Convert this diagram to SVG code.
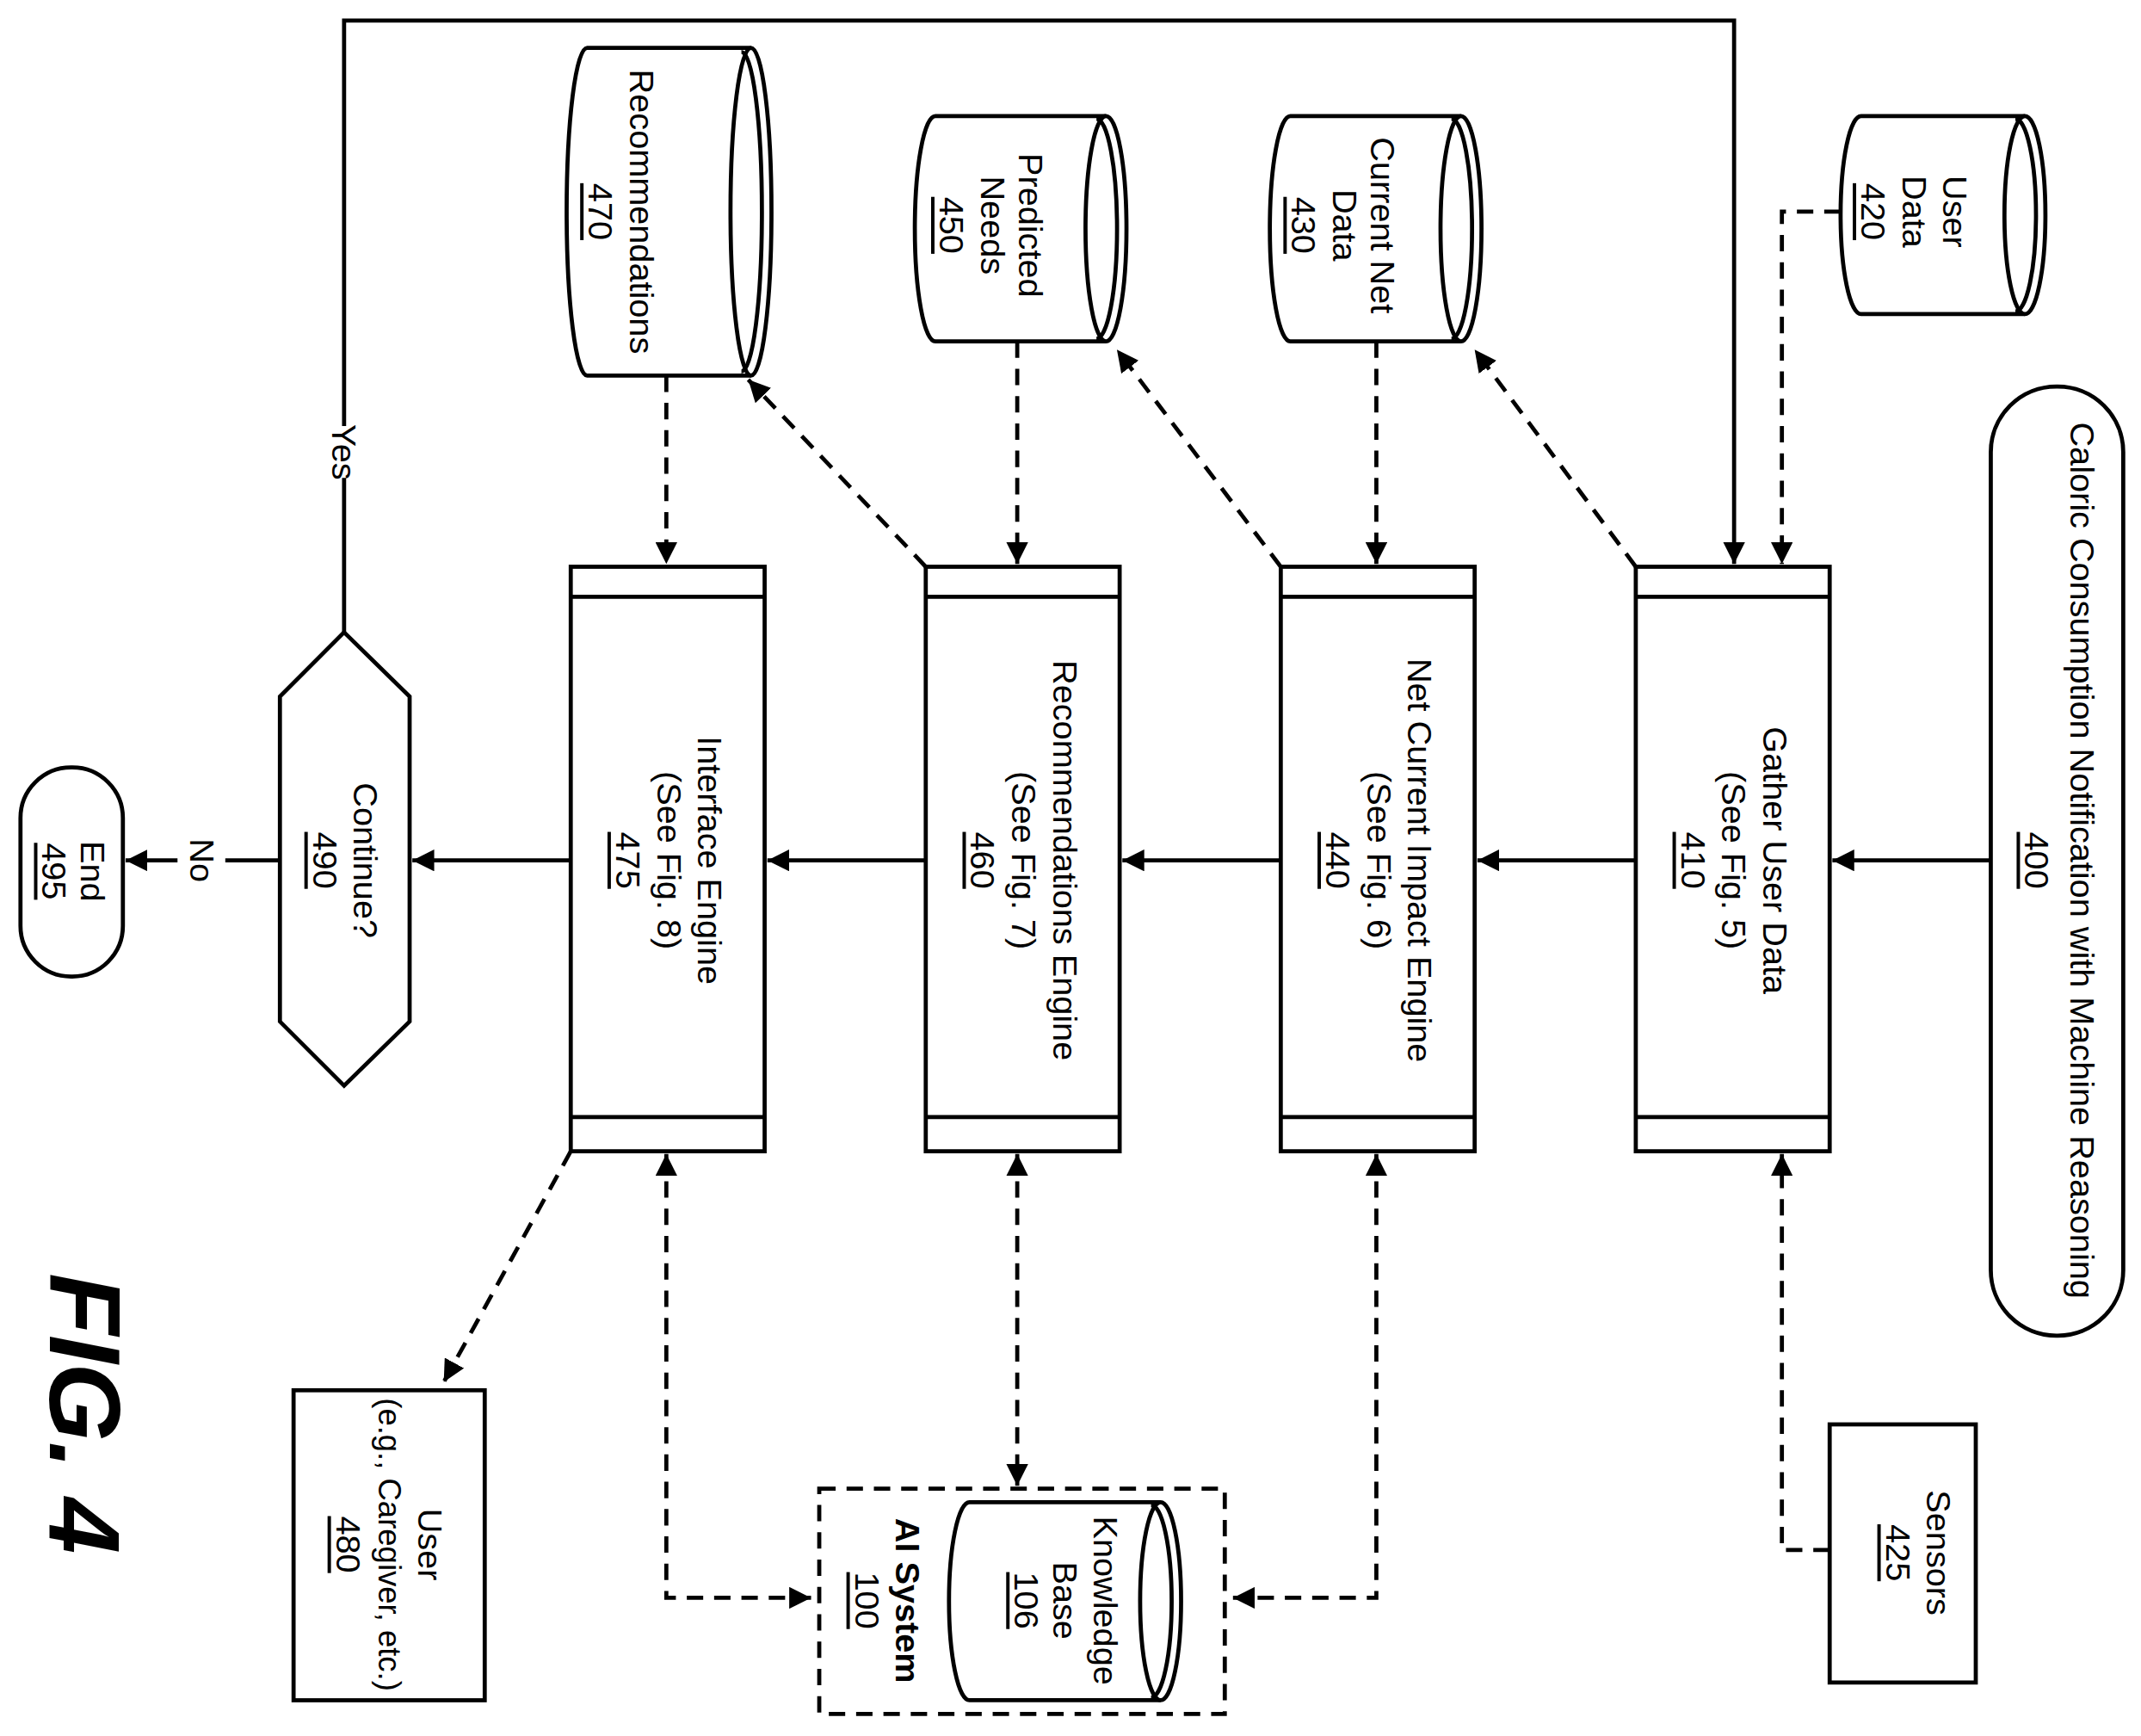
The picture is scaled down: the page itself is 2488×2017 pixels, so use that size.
<svg xmlns="http://www.w3.org/2000/svg" width="2488" height="2017" viewBox="0 0 2488 2017">
<defs>
<marker id="ah" markerUnits="userSpaceOnUse" markerWidth="18" markerHeight="16" refX="16" refY="8" orient="auto-start-reverse"><path d="M0,0 L16,8 L0,16 Z" fill="#000"/></marker>
</defs>
<style>
.s{fill:#fff;stroke:#000;stroke-width:3}
.n{fill:none;stroke:#000;stroke-width:3}
.l{fill:none;stroke:#000;stroke-width:3}
.d{fill:none;stroke:#000;stroke-width:3;stroke-dasharray:12 8}
text{font-family:"Liberation Sans",Arial,sans-serif;font-size:25px;text-anchor:middle;dominant-baseline:central;fill:#000}
.u{text-decoration:underline}
.fig{font-size:74px;font-weight:bold;font-style:italic}
</style>
<rect width="2488" height="2017" fill="#fff"/>
<g transform="scale(1.58673)">
<g id="connectors">
<path class="l" d="M1458,630 H1342" marker-end="url(#ah)"/>
<path class="l" d="M1198,630 H1082" marker-end="url(#ah)"/>
<path class="l" d="M938,630 H822" marker-end="url(#ah)"/>
<path class="l" d="M678,630 H562" marker-end="url(#ah)"/>
<path class="l" d="M418,630 H302" marker-end="url(#ah)"/>
<path class="l" d="M205,630 H165 M130,630 H92" marker-end="url(#ah)"/>
<path class="l" d="M252,463 V350 M252,312 V15 H1270 V413" marker-end="url(#ah)"/>
<path class="d" d="M1348,155 H1305 V413" marker-end="url(#ah)"/>
<path class="d" d="M1198,415 L1080,256" marker-end="url(#ah)"/>
<path class="d" d="M1008,250 V413" marker-end="url(#ah)"/>
<path class="d" d="M938,415 L818,256" marker-end="url(#ah)"/>
<path class="d" d="M745,250 V413" marker-end="url(#ah)"/>
<path class="d" d="M678,415 L548,278" marker-end="url(#ah)"/>
<path class="d" d="M488,275 V413" marker-end="url(#ah)"/>
<path class="d" d="M1340,1135 H1305 V845" marker-end="url(#ah)"/>
<path class="d" d="M418,843 L325,1012" marker-end="url(#ah)"/>
<path class="d" d="M1008,845 V1170 H903" marker-start="url(#ah)" marker-end="url(#ah)"/>
<path class="d" d="M745,845 V1088" marker-start="url(#ah)" marker-end="url(#ah)"/>
<path class="d" d="M488,845 V1170 H594" marker-start="url(#ah)" marker-end="url(#ah)"/>
</g>
<text transform="rotate(90 148 630)" x="148" y="630">No</text>
<text transform="rotate(90 252 331)" x="252" y="331">Yes</text>
<g id="n400">
<rect class="s" x="1458" y="283" width="97" height="695" rx="48"/>
<text transform="rotate(90 1525 630)" x="1525" y="630">Caloric Consumption Notification with Machine Reasoning</text>
<text class="u" transform="rotate(90 1492 630)" x="1492" y="630">400</text>
</g>
<g id="n410">
<rect class="s" x="1198" y="415" width="142" height="428"/><path class="n" d="M1198,437 H1340 M1198,818 H1340"/>
<text transform="rotate(90 1300 630)" x="1300" y="630">Gather User Data</text>
<text transform="rotate(90 1270 630)" x="1270" y="630">(See Fig. 5)</text>
<text class="u" transform="rotate(90 1240 630)" x="1240" y="630">410</text>
</g>
<g id="n440">
<rect class="s" x="938" y="415" width="142" height="428"/><path class="n" d="M938,437 H1080 M938,818 H1080"/>
<text transform="rotate(90 1040 630)" x="1040" y="630">Net Current Impact Engine</text>
<text transform="rotate(90 1010 630)" x="1010" y="630">(See Fig. 6)</text>
<text class="u" transform="rotate(90 980 630)" x="980" y="630">440</text>
</g>
<g id="n460">
<rect class="s" x="678" y="415" width="142" height="428"/><path class="n" d="M678,437 H820 M678,818 H820"/>
<text transform="rotate(90 780 630)" x="780" y="630">Recommendations Engine</text>
<text transform="rotate(90 750 630)" x="750" y="630">(See Fig. 7)</text>
<text class="u" transform="rotate(90 720 630)" x="720" y="630">460</text>
</g>
<g id="n475">
<rect class="s" x="418" y="415" width="142" height="428"/><path class="n" d="M418,437 H560 M418,818 H560"/>
<text transform="rotate(90 520 630)" x="520" y="630">Interface Engine</text>
<text transform="rotate(90 490 630)" x="490" y="630">(See Fig. 8)</text>
<text class="u" transform="rotate(90 460 630)" x="460" y="630">475</text>
</g>
<g id="n490">
<path class="s" d="M252,463 L300,510 V748 L252,795 L205,748 V510 Z"/>
<text transform="rotate(90 268 630)" x="268" y="630">Continue?</text>
<text class="u" transform="rotate(90 238 630)" x="238" y="630">490</text>
</g>
<g id="n495">
<rect class="s" x="15" y="562" width="75" height="153" rx="37"/>
<text transform="rotate(90 68 638)" x="68" y="638">End</text>
<text class="u" transform="rotate(90 40 638)" x="40" y="638">495</text>
</g>
<g id="n420">
<path class="s" d="M1483,85 H1363 A15,72.5 0 0 0 1363,230 H1483"/>
<ellipse class="s" cx="1483" cy="157.5" rx="15" ry="72.5"/><path class="n" d="M1476,87 A15,70 0 0 1 1476,228"/>
<text transform="rotate(90 1432 155)" x="1432" y="155">User</text>
<text transform="rotate(90 1402 155)" x="1402" y="155">Data</text>
<text class="u" transform="rotate(90 1372 155)" x="1372" y="155">420</text>
</g>
<g id="n430">
<path class="s" d="M1070,85 H945 A15,82.5 0 0 0 945,250 H1070"/>
<ellipse class="s" cx="1070" cy="167.5" rx="15" ry="82.5"/><path class="n" d="M1063,87 A15,80 0 0 1 1063,248"/>
<text transform="rotate(90 1013 165)" x="1013" y="165">Current Net</text>
<text transform="rotate(90 985 165)" x="985" y="165">Data</text>
<text class="u" transform="rotate(90 955 165)" x="955" y="165">430</text>
</g>
<g id="n450">
<path class="s" d="M810,85 H685 A15,82.5 0 0 0 685,250 H810"/>
<ellipse class="s" cx="810" cy="167.5" rx="15" ry="82.5"/><path class="n" d="M803,87 A15,80 0 0 1 803,248"/>
<text transform="rotate(90 755 165)" x="755" y="165">Predicted</text>
<text transform="rotate(90 727 165)" x="727" y="165">Needs</text>
<text class="u" transform="rotate(90 697 165)" x="697" y="165">450</text>
</g>
<g id="n470">
<path class="s" d="M550,35 H430 A15,120 0 0 0 430,275 H550"/>
<ellipse class="s" cx="550" cy="155" rx="15" ry="120"/><path class="n" d="M543,38 A15,117 0 0 1 543,272"/>
<text transform="rotate(90 470 155)" x="470" y="155">Recommendations</text>
<text class="u" transform="rotate(90 440 155)" x="440" y="155">470</text>
</g>
<g id="n425">
<rect class="s" x="1340" y="1043" width="107" height="189"/>
<text transform="rotate(90 1420 1137)" x="1420" y="1137">Sensors</text>
<text class="u" transform="rotate(90 1390 1137)" x="1390" y="1137">425</text>
</g>
<g id="n480">
<rect class="s" x="215" y="1018" width="140" height="227"/>
<text transform="rotate(90 315 1131)" x="315" y="1131">User</text>
<text transform="rotate(90 285 1131)" x="285" y="1131" style="font-size:23px">(e.g., Caregiver, etc.)</text>
<text class="u" transform="rotate(90 255 1131)" x="255" y="1131">480</text>
</g>
<g id="n100">
<rect class="d" x="600" y="1090" width="297" height="165" fill="none"/>
<path class="s" d="M850,1100 H710 A15,72.5 0 0 0 710,1245 H850"/>
<ellipse class="s" cx="850" cy="1172.5" rx="15" ry="72.5"/><path class="n" d="M843,1102 A15,70 0 0 1 843,1243"/>
<text transform="rotate(90 810 1172)" x="810" y="1172">Knowledge</text>
<text transform="rotate(90 780 1172)" x="780" y="1172">Base</text>
<text class="u" transform="rotate(90 752 1172)" x="752" y="1172">106</text>
<text transform="rotate(90 665 1172)" x="665" y="1172" style="font-weight:bold">AI System</text>
<text class="u" transform="rotate(90 635 1172)" x="635" y="1172">100</text>
</g>
<text class="fig" transform="rotate(90 62 1035)" x="62" y="1035">FIG. 4</text>
</g>
</svg>
